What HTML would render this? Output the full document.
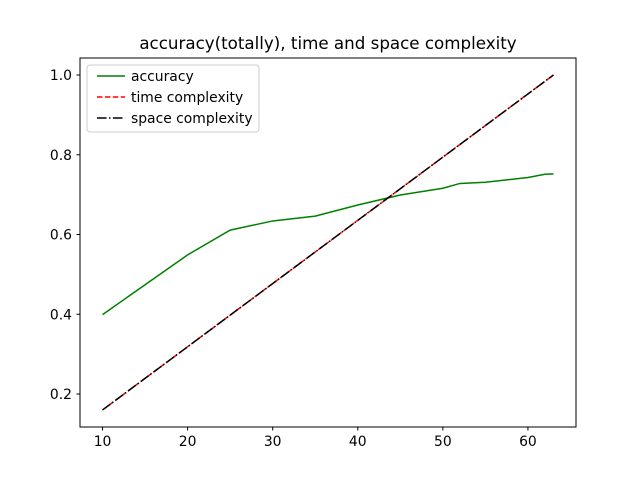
<!DOCTYPE html>
<html><head><meta charset="utf-8"><style>
body{margin:0;background:#fff;font-family:"DejaVu Sans","Liberation Sans",sans-serif}
svg text{font-family:"DejaVu Sans","Liberation Sans",sans-serif}
</style></head><body>
<svg id="chart" width="640" height="480" xmlns="http://www.w3.org/2000/svg">
<rect width="640" height="480" fill="#fff"/>
<text x="328" y="49" font-size="16.7" text-anchor="middle">accuracy(totally), time and space complexity</text>
<g id="plot"></g>
<rect x="80" y="58" width="496" height="369" fill="none" stroke="#000" stroke-width="1"/>
<g>
<rect x="87" y="65" width="172" height="67" rx="3" fill="#fff" fill-opacity="0.8" stroke="#ccc"/>
<line x1="97" y1="76" x2="125" y2="76" stroke="green" stroke-width="1.5"/>
<text x="131" y="81" font-size="13.9">accuracy</text>
<line x1="97" y1="97" x2="125" y2="97" stroke="red" stroke-width="1.5" stroke-dasharray="5.5,2.4"/>
<text x="131" y="102" font-size="13.9">time complexity</text>
<line x1="97" y1="118" x2="125" y2="118" stroke="#000" stroke-width="1.5" stroke-dasharray="9.6,2.4,1.5,2.4"/>
<text x="131" y="123" font-size="13.9">space complexity</text>
</g>
</svg>
<script>
const accX=[10,20,25,30,35,40,45,50,52,55,60,62,63];
const accY=[0.399,0.549,0.611,0.634,0.646,0.674,0.699,0.716,0.728,0.731,0.743,0.751,0.752];
const cplxX=[10,63];
const timeY=[0.16,1.0];
const spaceY=[0.16,1.0];
const xTicks=[10,20,30,40,50,60];
const yTicks=[0.2,0.4,0.6,0.8,1.0];
const NS="http://www.w3.org/2000/svg";
const xs=v=>80+(v-7.35)/58.3*496;
const ys=v=>394-(v-0.2)*398.75;
const g=document.getElementById('plot');
function el(t,a){const e=document.createElementNS(NS,t);for(const k in a)e.setAttribute(k,a[k]);g.appendChild(e);return e;}
xTicks.forEach(t=>{
 const l=el('line',{x1:xs(t),x2:xs(t),y1:427,y2:430.5,stroke:'#000'});
 
 
 const tx=el('text',{x:xs(t),y:446,'font-size':13.9,'text-anchor':'middle'});tx.textContent=t;
 
 
});
yTicks.forEach(t=>{
 const l=el('line',{x1:76.5,x2:80,y1:ys(t),y2:ys(t),stroke:'#000'});
 
 
 const tx=el('text',{x:72,y:ys(t)+5,'font-size':13.9,'text-anchor':'end'});tx.textContent=t.toFixed(1);
 
 
});
function pts(X,Y){return X.map((x,i)=>xs(x)+','+ys(Y[i])).join(' ');}
const a=el('polyline',{points:pts(accX,accY),fill:'none',stroke:'green','stroke-width':1.5});


const t=el('polyline',{points:pts(cplxX,timeY),fill:'none',stroke:'red','stroke-width':1.5,'stroke-dasharray':'5.5,2.4'});


const s=el('polyline',{points:pts(cplxX,spaceY),fill:'none',stroke:'#000','stroke-width':1.5,'stroke-dasharray':'9.6,2.4,1.5,2.4'});


</script>
</body></html>
